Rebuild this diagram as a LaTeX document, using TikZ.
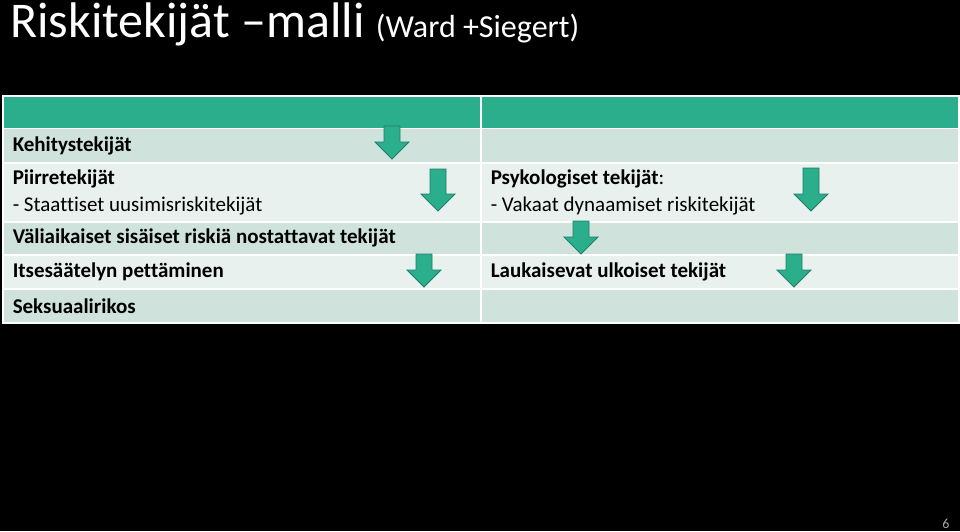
\documentclass[tikz,border=0pt]{standalone}
\usepackage{fontspec}
\setmainfont{Carlito}[Ligatures=NoCommon]
\usetikzlibrary{positioning}
\definecolor{headgreen}{HTML}{2BAE8C}
\definecolor{rowdark}{HTML}{CFE3DC}
\definecolor{rowlight}{HTML}{E8F1EE}
\definecolor{arrowline}{HTML}{1F7F66}

\tikzset{
  cell/.style={draw=white, line width=1.5pt, anchor=north west, inner xsep=10pt, inner ysep=0pt,
    minimum width=478pt, text width=458pt, align=flush left, font=\fontsize{21}{27}\selectfont},
  pics/downarrow/.style={code={
    \filldraw[fill=headgreen, draw=arrowline, line width=0.8pt]
      (-8,0) -- (8,0) -- (8,#1) -- (17,#1) -- (0,#1+17) -- (-17,#1) -- (-8,#1) -- cycle;
  }}
}

\begin{document}
\begin{tikzpicture}[x=1pt, y=-1pt]
      \useasboundingbox (0,0) rectangle (960,531);
      \fill[black] (0,0) rectangle (960,531);

      % Title
      \node[anchor=base west, inner sep=0pt, text=white, font=\fontsize{50}{50}\selectfont] (title) at (10,37)
        {Riskitekijät –malli \fontsize{32}{32}\selectfont(Ward +Siegert)};

      % Header row
      \node[cell, fill=headgreen, minimum height=32.5] (hL) at (2,95) {};
      \node[cell, fill=headgreen, minimum height=32.5] (hR) at (480,95) {};

      % Left column
      \node[cell, fill=rowdark, minimum height=34.5] (l1) at (2,127.5) {\textbf{Kehitystekijät}};
      \node[cell, fill=rowlight, minimum height=59] (l2) at (2,162) {\textbf{Piirretekijät}\\- Staattiset uusimisriskitekijät};
      \node[cell, fill=rowdark, minimum height=33] (l3) at (2,221) {\textbf{Väliaikaiset sisäiset riskiä nostattavat tekijät}};
      \node[cell, fill=rowlight, minimum height=34] (l4) at (2,254) {\textbf{Itsesäätelyn pettäminen}};
      \node[cell, fill=rowdark, minimum height=34] (l5) at (2,288) {\textbf{Seksuaalirikos}};

      % Right column
      \node[cell, fill=rowdark, minimum height=34.5] (r1) at (480,127.5) {};
      \node[cell, fill=rowlight, minimum height=59] (r2) at (480,162) {\textbf{Psykologiset tekijät}:\\- Vakaat dynaamiset riskitekijät};
      \node[cell, fill=rowdark, minimum height=33] (r3) at (480,221) {};
      \node[cell, fill=rowlight, minimum height=34] (r4) at (480,254) {\textbf{Laukaisevat ulkoiset tekijät}};
      \node[cell, fill=rowdark, minimum height=34] (r5) at (480,288) {};

      % Down arrows
      \pic (arr1) at (392,126) {downarrow=16};
      \pic (arr2) at (438,169) {downarrow=25};
      \pic (arr3) at (424,254) {downarrow=16};
      \pic (arr4) at (581,221) {downarrow=16};
      \pic (arr5) at (811,168) {downarrow=26};
      \pic (arr6) at (794,254) {downarrow=16};

      % Page number
      \node[inner sep=0pt, text=gray!70!white, font=\fontsize{14}{14}\selectfont] (pagenum) at (946,524) {6};
\end{tikzpicture}
\end{document}
